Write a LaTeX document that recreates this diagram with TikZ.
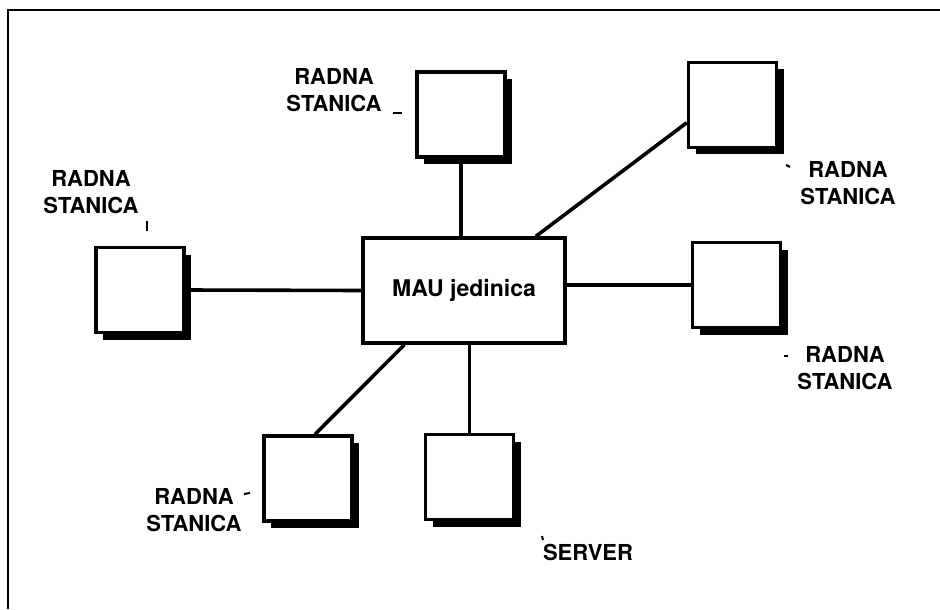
\documentclass[tikz,border=0pt]{standalone}
\usepackage{fontspec}
\setmainfont{TeX Gyre Heros}
\usetikzlibrary{calc,shadows}

\tikzset{
    stanica/.style={draw, fill=white, line width=1.7pt, inner sep=0pt,
                    minimum width=44pt, minimum height=42.5pt,
                    general shadow={fill=black, shadow xshift=3.5pt, shadow yshift=-3.5pt}},
    mau/.style={draw, fill=white, line width=1.7pt, inner sep=0pt,
                minimum width=101pt, minimum height=52.5pt,
                font=\fontsize{11.5}{13}\selectfont\bfseries},
    veza/.style={line width=1.8pt},
    oznaka/.style={align=center, inner sep=0pt,
                   font=\fontsize{11}{13.5}\selectfont\bfseries},
    crtica/.style={line width=1pt}
}

\begin{document}
\begin{tikzpicture}[x=0.5pt, y=-0.5pt]

    \useasboundingbox (0,0) rectangle (940,609);

    % okvir
    \draw [line width=1pt] (8,609) -- (8,10) -- (940,10);

    % MAU i stanice
    \node [mau]     (mau)  at (464  , 290.5) {MAU jedinica};
    \node [stanica] (stg)  at (461  , 114.5) {};
    \node [stanica] (stl)  at (140  , 290  ) {};
    \node [stanica] (stgd) at (732.5, 105  ) {};
    \node [stanica] (std)  at (736.5, 285  ) {};
    \node [stanica] (stdl) at (308  , 478.5) {};
    \node [stanica] (srv)  at (469.5, 477  ) {};

    % veze
    \draw [veza] (stg.south) -- (stg.south |- mau.north);
    \draw [veza] (stl.east) -- (mau.west);
    \draw [veza] ($(stgd.south west)!0.3!(stgd.north west)$) -- ($(mau.north)!0.7!(mau.north east)$);
    \draw [veza] (mau.east |- std.west) -- (std.west);
    \draw [veza] ($(stdl.north)+(7,0)$) -- ($(mau.south)!0.58!(mau.south west)$);
    \draw [veza] (srv.north) -- (srv.north |- mau.south);

    % natpisi
    \node [oznaka] (ozg)  at (334, 90 ) {RADNA\\STANICA};
    \node [oznaka] (ozl)  at (91 , 192) {RADNA\\STANICA};
    \node [oznaka] (ozgd) at (848, 183) {RADNA\\STANICA};
    \node [oznaka] (ozd)  at (845, 368) {RADNA\\STANICA};
    \node [oznaka] (ozdl) at (194, 510) {RADNA\\STANICA};
    \node [oznaka] (ozs)  at (588, 552) {SERVER};

    \draw [crtica] (393,113) -- (402,113);
    \draw [crtica] (147,221) -- (147,231);
    \draw [crtica] (786,165) -- (790,167);
    \draw [crtica] (784,356) -- (788,356);
    \draw [crtica] (244,494) -- (250,493);
    \draw [crtica] (542,536) -- (543,540);

\end{tikzpicture}
\end{document}
